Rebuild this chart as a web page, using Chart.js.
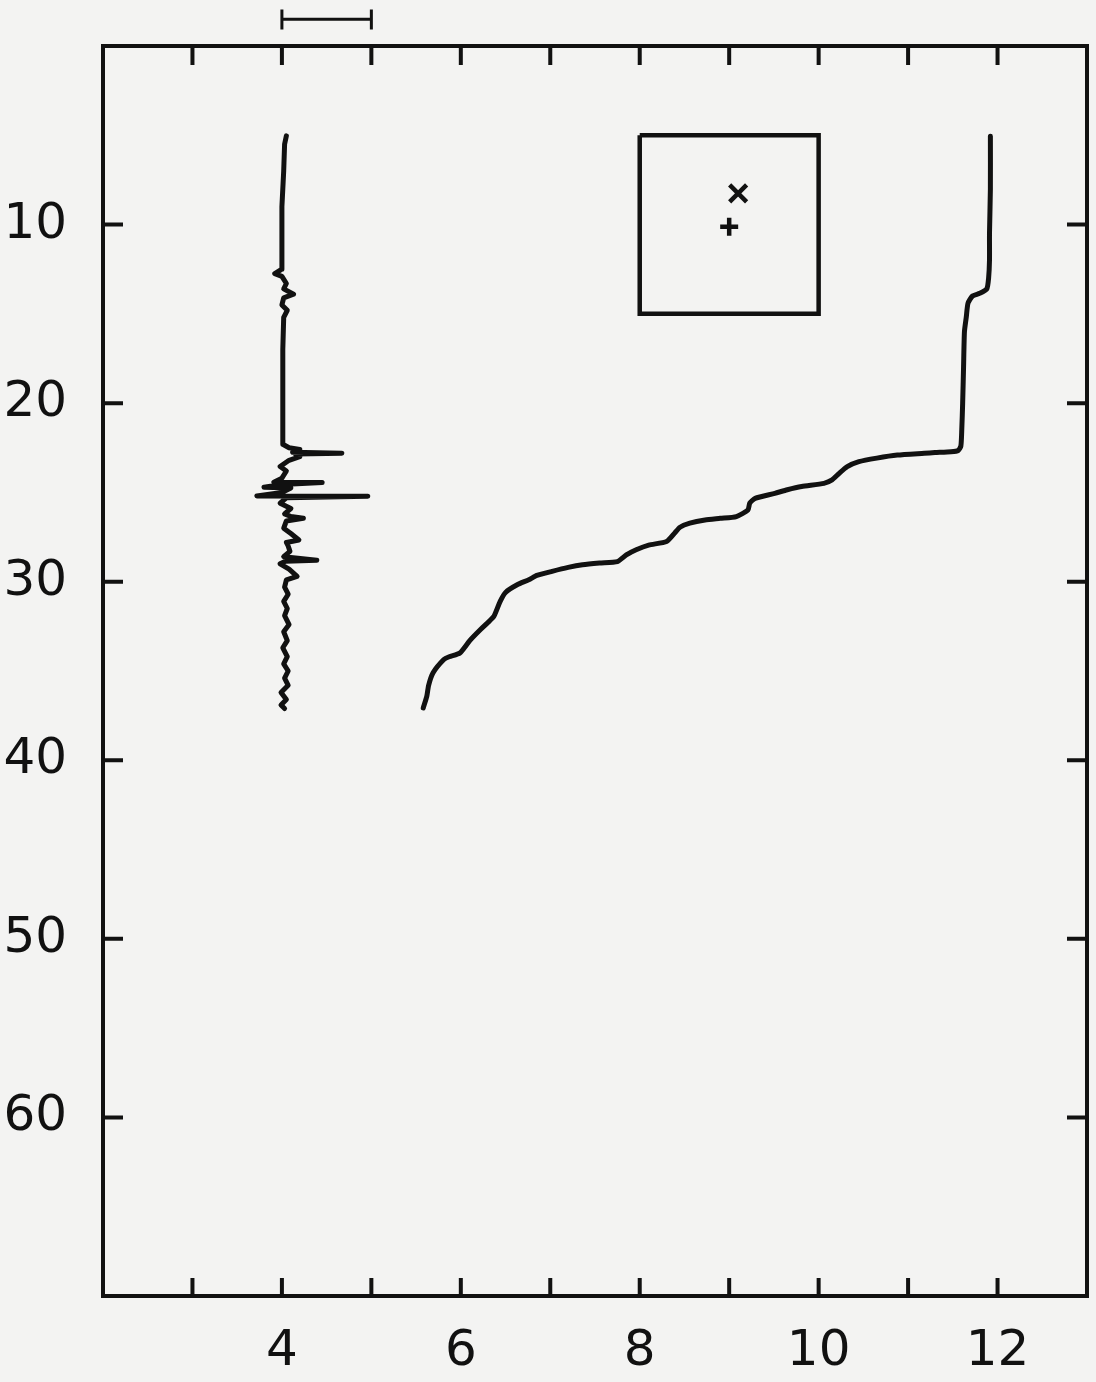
<!DOCTYPE html>
<html>
<head>
<meta charset="utf-8">
<script src="https://cdn.jsdelivr.net/npm/chart.js@4.4.1/dist/chart.umd.min.js"></script>
<style>
  html, body { margin: 0; padding: 0; background: #f3f3f2; }
  #wrap { width: 1096px; height: 1382px; position: relative; }
</style>
</head>
<body>
<div id="wrap"><canvas id="c" width="1096" height="1382"></canvas></div>
<script>
// ---- axis ranges & tick labels ----
const xRange = [2, 13];
const yRange = [0, 70];
const xTickLabels = [4, 6, 8, 10, 12];
const yTickLabels = [10, 20, 30, 40, 50, 60];
const xTickMarks = [3, 4, 5, 6, 7, 8, 9, 10, 11, 12];
const yTickMarks = [10, 20, 30, 40, 50, 60];

// ---- left profile (near 4) ----
const profileAx = [4.05, 4.03, 4.02, 4.00, 4.00, 4.00, 3.92, 4.00, 4.05, 4.02, 4.13, 4.02, 4.00, 4.06, 4.02, 4.01, 4.01, 4.01,
  4.01, 4.08, 4.20, 4.12, 4.67, 4.15, 4.20, 4.08, 3.98, 4.05, 4.00, 3.91, 4.45, 4.00, 3.80, 4.10, 4.00, 3.72, 4.96, 4.05,
  3.98, 4.10, 4.03, 4.10, 4.24, 4.05, 4.02, 4.10, 4.19, 4.05, 4.07, 4.09, 4.02, 4.39, 4.04, 3.98, 4.08, 4.17, 4.05, 4.03,
  4.07, 4.02, 4.06, 4.03, 4.08, 4.02, 4.06, 4.01, 4.06, 4.02, 4.07, 4.03, 4.07, 3.99, 4.05, 3.99, 4.03];
const profileAy = [5.03, 5.5, 7.0, 9.0, 11.0, 12.5, 12.75, 12.9, 13.3, 13.6, 13.9, 14.1, 14.5, 14.8, 15.2, 17.0, 19.0, 21.0,
  22.3, 22.5, 22.6, 22.75, 22.8, 22.85, 23.0, 23.2, 23.55, 23.8, 24.2, 24.43, 24.45, 24.55, 24.71, 24.75, 25.0, 25.2, 25.22, 25.3,
  25.6, 25.9, 26.2, 26.35, 26.45, 26.6, 27.0, 27.3, 27.66, 27.8, 28.0, 28.3, 28.6, 28.8, 28.85, 29.0, 29.3, 29.7, 29.9, 30.3,
  30.7, 31.1, 31.5, 31.9, 32.4, 32.8, 33.3, 33.7, 34.2, 34.6, 35.0, 35.4, 35.8, 36.2, 36.6, 36.9, 37.1];

// ---- right profile ----
const profileBx = [11.92, 11.92, 11.91, 11.91, 11.90, 11.88, 11.80, 11.72, 11.67, 11.65, 11.63, 11.62, 11.61, 11.60, 11.59,
  11.56, 11.48, 11.30, 11.18, 10.88, 10.65, 10.45, 10.32, 10.23, 10.15, 10.06, 9.81, 9.65, 9.51, 9.29, 9.23, 9.21, 9.08, 8.90,
  8.73, 8.56, 8.45, 8.39, 8.30, 8.10, 7.96, 7.85, 7.75, 7.55, 7.36, 7.20, 7.02, 6.85, 6.76, 6.63, 6.50, 6.44, 6.37, 6.30, 6.22,
  6.10, 5.99, 5.87, 5.81, 5.69, 5.64, 5.62, 5.58];
const profileBy = [5.05, 8.0, 10.5, 12.0, 13.0, 13.6, 13.85, 14.0, 14.4, 15.2, 16.0, 18.0, 20.0, 21.5, 22.4,
  22.65, 22.72, 22.77, 22.81, 22.91, 23.08, 23.28, 23.56, 23.93, 24.3, 24.49, 24.67, 24.85, 25.05, 25.33, 25.6, 25.98, 26.35, 26.45,
  26.54, 26.72, 26.95, 27.28, 27.75, 27.95, 28.21, 28.5, 28.87, 28.95, 29.05, 29.2, 29.42, 29.65, 29.89, 30.17, 30.6, 31.1, 31.94, 32.3, 32.68,
  33.3, 33.99, 34.2, 34.36, 35.1, 35.8, 36.41, 37.07];

// ---- inset box and its two markers ----
const boxX = [8, 10, 10, 8, 8];
const boxY = [5, 5, 15, 15, 5];
const markerX = [9.1, 9.0];
const markerY = [8.25, 10.12];
const markerStyle = ['crossRot', 'cross'];

// ---- scale bar above the frame (x from 4 to 5) ----
const barX = [4, 4, 4, 5, 5, 5];
const barY = [-2.05, -0.93, -1.5, -1.5, -2.05, -0.93];

const zip = (xs, ys) => xs.map((x, i) => ({ x: x, y: ys[i] }));
const INK = '#111111';

const framePlugin = {
  id: 'frame',
  afterDatasetsDraw(chart) {
    const { ctx, chartArea: a, scales } = chart;
    ctx.save();
    ctx.strokeStyle = INK;
    ctx.lineWidth = 4;
    ctx.lineCap = 'butt';
    ctx.strokeRect(a.left, a.top, a.right - a.left, a.bottom - a.top);
    ctx.lineWidth = 4;
    ctx.beginPath();
    xTickMarks.forEach(v => {
      const px = scales.x.getPixelForValue(v);
      ctx.moveTo(px, a.top); ctx.lineTo(px, a.top + 19);
      ctx.moveTo(px, a.bottom); ctx.lineTo(px, a.bottom - 18);
    });
    yTickMarks.forEach(v => {
      const py = scales.y.getPixelForValue(v);
      ctx.moveTo(a.left, py); ctx.lineTo(a.left + 20, py);
      ctx.moveTo(a.right, py); ctx.lineTo(a.right - 20, py);
    });
    ctx.stroke();
    ctx.restore();
  }
};

const noPad = s => { s.paddingTop = 0; s.paddingBottom = 0; s.paddingLeft = 0; s.paddingRight = 0; };

new Chart(document.getElementById('c'), {
  type: 'scatter',
  data: {
    datasets: [
      { data: zip(profileAx, profileAy), showLine: true, borderColor: INK, borderWidth: 5, pointRadius: 0, tension: 0,
        borderJoinStyle: 'round', borderCapStyle: 'round' },
      { data: zip(profileBx, profileBy), showLine: true, borderColor: INK, borderWidth: 5, pointRadius: 0, tension: 0.2,
        borderJoinStyle: 'round', borderCapStyle: 'round' },
      { data: zip(boxX, boxY), showLine: true, borderColor: INK, borderWidth: 4.5, pointRadius: 0, tension: 0,
        borderJoinStyle: 'miter' },
      { data: zip(markerX, markerY), showLine: false, pointStyle: markerStyle, pointRadius: [12, 9],
        borderColor: INK, backgroundColor: INK, pointBorderWidth: 4.5 },
      { data: zip(barX, barY), showLine: true, borderColor: INK, borderWidth: 3, pointRadius: 0, tension: 0, clip: false }
    ]
  },
  options: {
    responsive: false,
    animation: false,
    devicePixelRatio: 1,
    layout: { autoPadding: false, padding: { top: 46, right: 9, left: 0, bottom: 0 } },
    plugins: { legend: { display: false }, tooltip: { enabled: false } },
    scales: {
      x: {
        type: 'linear', min: xRange[0], max: xRange[1],
        afterBuildTicks: s => { s.ticks = xTickLabels.map(v => ({ value: v })); },
        afterFit: s => { s.height = 86; noPad(s); },
        grid: { display: false, drawTicks: false },
        border: { display: false },
        ticks: { color: INK, padding: 26, font: { family: 'DejaVu Sans', size: 50 }, maxRotation: 0, autoSkip: false,
          callback: v => String(v) }
      },
      y: {
        type: 'linear', min: yRange[0], max: yRange[1], reverse: true,
        afterBuildTicks: s => { s.ticks = yTickLabels.map(v => ({ value: v })); },
        afterFit: s => { s.width = 103; noPad(s); },
        grid: { display: false, drawTicks: false },
        border: { display: false },
        ticks: { color: INK, padding: 36, font: { family: 'DejaVu Sans', size: 50 }, autoSkip: false,
          callback: v => String(v) }
      }
    }
  },
  plugins: [framePlugin]
});
</script>
</body>
</html>
